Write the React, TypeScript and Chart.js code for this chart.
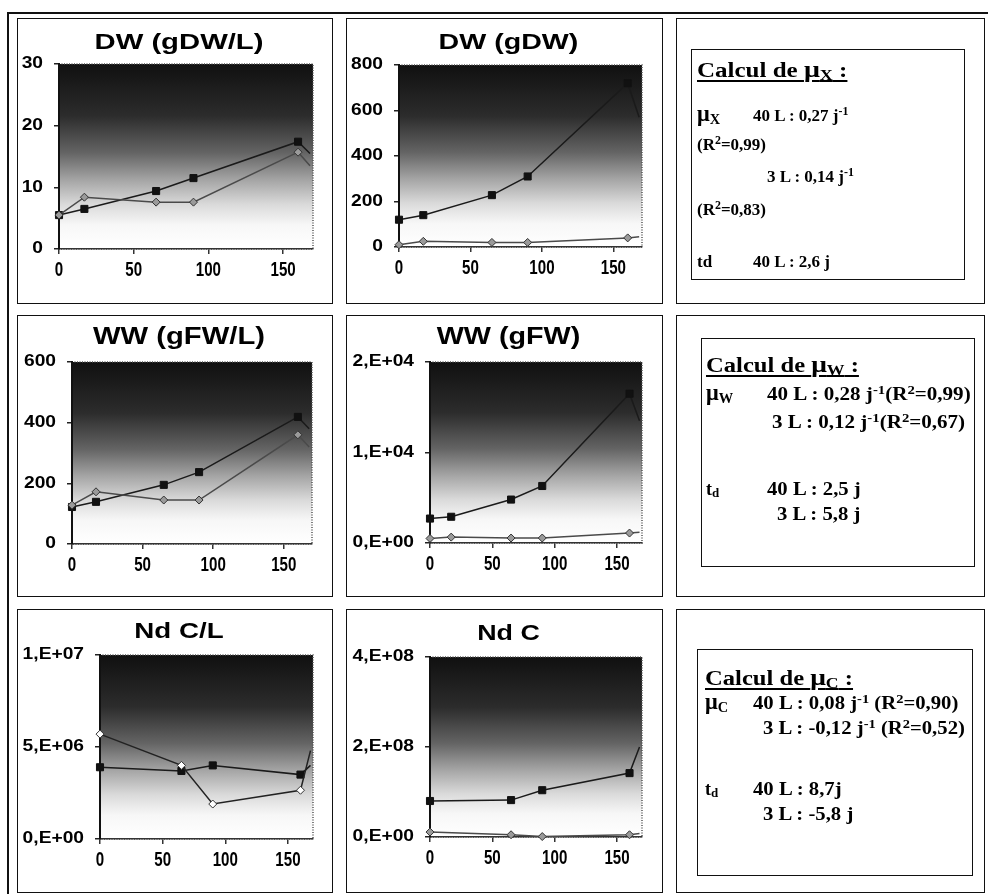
import React, { useEffect, useRef } from "react";
import { Chart, registerables } from "chart.js";

Chart.register(...registerables);

// ---------- data ----------
const xTickValues = [0, 50, 100, 150];
const xTickLabels = ["0", "50", "100", "150"];

const daysBiomass = [0, 17, 65, 90, 160, 168];
const daysCells = [0, 65, 90, 160, 168];

const dwPerL40 = [5.5, 6.5, 9.4, 11.5, 17.4, 15.5];
const dwPerL3 = [5.5, 8.4, 7.6, 7.6, 15.7, 13.5];
const dwPerLTicks = ["0", "10", "20", "30"];

const dwTotal40 = [120, 140, 228, 310, 720, 570];
const dwTotal3 = [10, 25, 20, 20, 40, 45];
const dwTotalTicks = ["0", "200", "400", "600", "800"];

const wwPerL40 = [122, 139, 195, 237, 419, 380];
const wwPerL3 = [128, 172, 145, 145, 360, 320];
const wwPerLTicks = ["0", "200", "400", "600"];

const wwTotal40 = [2700, 2900, 4800, 6300, 16500, 13500];
const wwTotal3 = [500, 650, 550, 550, 1100, 1200];
const wwTotalTicks = ["0,E+00", "1,E+04", "2,E+04"];

const cellsPerL40 = [3.9e6, 3.7e6, 4.0e6, 3.5e6, 4.0e6];
const cellsPerL3 = [5.7e6, 4.0e6, 1.9e6, 2.65e6, 4.8e6];
const cellsPerLTicks = ["0,E+00", "5,E+06", "1,E+07"];

const cellsTotal40 = [8.0e7, 8.2e7, 1.04e8, 1.42e8, 2.0e8];
const cellsTotal3 = [1.1e7, 5e6, 1e6, 5e6, 8e6];
const cellsTotalTicks = ["0,E+00", "2,E+08", "4,E+08"];

// ---------- helpers ----------
type Box = { x: number; y: number; w: number; h: number };
type Plot = { l: number; t: number; r: number; b: number };

const bgPlugin = {
  id: "plotBg",
  beforeDraw(chart: any) {
    const { ctx, chartArea: a } = chart;
    const g = ctx.createLinearGradient(0, a.top, 0, a.bottom);
    g.addColorStop(0, "#101010");
    g.addColorStop(0.28, "#2c2c2c");
    g.addColorStop(0.48, "#646464");
    g.addColorStop(0.63, "#a6a6a6");
    g.addColorStop(0.76, "#dadada");
    g.addColorStop(0.87, "#f7f7f7");
    g.addColorStop(1, "#ffffff");
    ctx.save();
    ctx.fillStyle = g;
    ctx.fillRect(a.left, a.top, a.right - a.left, a.bottom - a.top);
    ctx.setLineDash([1, 1.5]);
    ctx.strokeStyle = "#555";
    ctx.lineWidth = 1.5;
    ctx.strokeRect(a.left, a.top, a.right - a.left, a.bottom - a.top);
    ctx.restore();
  },
};

// tick labels drawn at the scale's tick positions (condensed x, widened y as in the scan)
const labelPlugin = {
  id: "axisLabels",
  afterDraw(chart: any, _args: any, opts: any) {
    const { ctx } = chart;
    const xs = chart.scales.x;
    const ys = chart.scales.y;
    ctx.save();
    ctx.fillStyle = "#000";
    ctx.font = 'bold 21px "Liberation Sans", Arial, sans-serif';
    ctx.textAlign = "center";
    ctx.textBaseline = "alphabetic";
    xs.ticks.forEach((t: any, i: number) => {
      const px = xs.getPixelForValue(t.value);
      ctx.save();
      ctx.translate(px, xs.top + 27);
      ctx.scale(0.72, 1);
      ctx.fillText(opts.xLabels[i] ?? "", 0, 0);
      ctx.restore();
    });
    ctx.font = 'bold 16px "Liberation Sans", Arial, sans-serif';
    ctx.textAlign = "right";
    ctx.textBaseline = "middle";
    ys.ticks.forEach((t: any, i: number) => {
      const py = ys.getPixelForValue(t.value);
      ctx.save();
      ctx.translate(ys.right - 16, py);
      ctx.scale(1.2, 1);
      ctx.fillText(opts.yLabels[i] ?? "", 0, 0);
      ctx.restore();
    });
    ctx.restore();
  },
};

type PanelProps = {
  box: Box;
  plot: Plot;
  title: string;
  titleSize: number;
  titleBaseline: number;
  titleScale: number;
  days: number[];
  s40: number[];
  s3: number[];
  yMax: number;
  yStep: number;
  yLabels: string[];
  openDiamonds?: boolean;
};

function ChartPanel(p: PanelProps) {
  const ref = useRef<HTMLCanvasElement | null>(null);
  const cx = p.box.x + 2;
  const cy = p.box.y + 2;
  const cw = p.box.w - 4;
  const ch = p.box.h - 4;
  useEffect(() => {
    if (!ref.current) return;
    const xH = 34;
    const yW = p.plot.l - cx;
    const padTop = p.plot.t - cy;
    const padRight = cx + cw - p.plot.r;
    const padBottom = cy + ch - p.plot.b - xH;
    const last = p.days.length - 1;
    const chart = new Chart(ref.current, {
      type: "scatter",
      data: {
        datasets: [
          {
            data: p.days.map((d, i) => ({ x: d, y: p.s3[i] })),
            showLine: true,
            clip: false,
            borderColor: p.openDiamonds ? "#222" : "#4a4a4a",
            borderWidth: 1.5,
            pointStyle: "rectRot",
            pointRadius: (c: any) => (c.dataIndex === last ? 0 : 4),
            pointBackgroundColor: p.openDiamonds ? "#ffffff" : "#9a9a9a",
            pointBorderColor: "#333",
            pointBorderWidth: 1,
          },
          {
            data: p.days.map((d, i) => ({ x: d, y: p.s40[i] })),
            showLine: true,
            clip: false,
            borderColor: "#1a1a1a",
            borderWidth: 1.5,
            pointStyle: "rect",
            pointRadius: (c: any) => (c.dataIndex === last ? 0 : 5),
            pointBackgroundColor: "#111",
            pointBorderColor: "#111",
            pointBorderWidth: 1,
          },
        ],
      } as any,
      options: {
        animation: false,
        responsive: false,
        maintainAspectRatio: false,
        layout: { padding: { left: 0, top: padTop, right: padRight, bottom: padBottom } },
        plugins: {
          legend: { display: false },
          tooltip: { enabled: false },
          title: { display: false },
          axisLabels: { xLabels: xTickLabels, yLabels: p.yLabels },
        },
        scales: {
          x: {
            type: "linear",
            min: 0,
            max: 170,
            afterBuildTicks: (axis: any) => {
              axis.ticks = xTickValues.map((v) => ({ value: v }));
            },
            afterFit: (s: any) => {
              s.height = xH;
            },
            ticks: { display: false, stepSize: 50, autoSkip: false, maxRotation: 0 },
            grid: { drawOnChartArea: false, drawTicks: true, tickLength: 5, color: "#333", lineWidth: 1.5 },
            border: { color: "#333", width: 1.5 },
          },
          y: {
            type: "linear",
            min: 0,
            max: p.yMax,
            afterFit: (s: any) => {
              s.width = yW;
            },
            ticks: { display: false, stepSize: p.yStep, autoSkip: false },
            grid: { drawOnChartArea: false, drawTicks: true, tickLength: 5, color: "#222", lineWidth: 1.5 },
            border: { color: "#111", width: 2 },
          },
        },
      } as any,
      plugins: [bgPlugin, labelPlugin],
    });
    return () => chart.destroy();
  }, []);
  return (
    <>
      <div
        style={{
          position: "absolute",
          left: p.box.x,
          top: p.box.y,
          width: p.box.w,
          height: p.box.h,
          border: "1.5px solid #111",
          boxSizing: "border-box",
        }}
      />
      <canvas
        ref={ref}
        width={cw}
        height={ch}
        style={{ position: "absolute", left: cx, top: cy, width: cw, height: ch }}
      />
      <div
        style={{
          position: "absolute",
          left: p.box.x + 4,
          width: p.box.w,
          top: p.titleBaseline - 0.85 * p.titleSize,
          fontSize: p.titleSize,
          lineHeight: `${p.titleSize}px`,
          fontFamily: '"Liberation Sans", Arial, sans-serif',
          fontWeight: "bold",
          textAlign: "center",
          whiteSpace: "nowrap",
          transform: `scaleX(${p.titleScale})`,
          color: "#000",
        }}
      >
        {p.title}
      </div>
    </>
  );
}

const serif = '"Liberation Serif", "Times New Roman", serif';

function Line(props: { x: number; base: number; size: number; scale?: number; children: any; underline?: boolean }) {
  return (
    <div
      style={{
        position: "absolute",
        left: props.x,
        top: props.base - 0.84 * props.size,
        fontSize: props.size,
        lineHeight: `${props.size}px`,
        fontFamily: serif,
        fontWeight: "bold",
        whiteSpace: "nowrap",
        color: "#000",
        textDecoration: props.underline ? "underline" : "none",
        textDecorationThickness: props.underline ? "1.5px" : undefined,
        textUnderlineOffset: "3px",
        transform: `scaleX(${props.scale ?? 1})`,
        transformOrigin: "left center",
      }}
    >
      {props.children}
    </div>
  );
}

const Sup = ({ children }: { children: any }) => (
  <span style={{ fontSize: "0.7em", position: "relative", top: "-0.5em" }}>{children}</span>
);
const Sub = ({ children }: { children: any }) => (
  <span style={{ fontSize: "0.72em", position: "relative", top: "0.2em" }}>{children}</span>
);
const Mu = () => <span style={{ fontSize: "1.12em" }}>μ</span>;

function Frame({ b }: { b: Box }) {
  return (
    <div
      style={{
        position: "absolute",
        left: b.x,
        top: b.y,
        width: b.w,
        height: b.h,
        border: "1.5px solid #111",
        boxSizing: "border-box",
      }}
    />
  );
}

export default function App() {
  const col1 = { x: 17, w: 316 };
  const col2 = { x: 346, w: 317 };
  const col3 = { x: 676, w: 309 };
  const row1 = { y: 18, h: 286 };
  const row2 = { y: 315, h: 282 };
  const row3 = { y: 609, h: 284 };
  return (
    <div style={{ position: "absolute", left: 0, top: 0, width: 988, height: 894, background: "#fff", overflow: "hidden" }}>
      {/* outer frame lines */}
      <div style={{ position: "absolute", left: 8, top: 12, width: 980, height: 1.5, background: "#111" }} />
      <div style={{ position: "absolute", left: 7, top: 12, width: 1.5, height: 882, background: "#111" }} />

      <ChartPanel
        box={{ x: col1.x, y: row1.y, w: col1.w, h: row1.h }}
        plot={{ l: 59, t: 64, r: 313, b: 249 }}
        title="DW (gDW/L)"
        titleSize={22}
        titleBaseline={50}
        titleScale={1.33}
        days={daysBiomass}
        s40={dwPerL40}
        s3={dwPerL3}
        yMax={30}
        yStep={10}
        yLabels={dwPerLTicks}
      />
      <ChartPanel
        box={{ x: col2.x, y: row1.y, w: col2.w, h: row1.h }}
        plot={{ l: 399, t: 65, r: 642, b: 247 }}
        title="DW (gDW)"
        titleSize={22}
        titleBaseline={50}
        titleScale={1.3}
        days={daysBiomass}
        s40={dwTotal40}
        s3={dwTotal3}
        yMax={800}
        yStep={200}
        yLabels={dwTotalTicks}
      />
      <ChartPanel
        box={{ x: col1.x, y: row2.y, w: col1.w, h: row2.h }}
        plot={{ l: 72, t: 362, r: 312, b: 544 }}
        title="WW (gFW/L)"
        titleSize={23}
        titleBaseline={345}
        titleScale={1.27}
        days={daysBiomass}
        s40={wwPerL40}
        s3={wwPerL3}
        yMax={600}
        yStep={200}
        yLabels={wwPerLTicks}
      />
      <ChartPanel
        box={{ x: col2.x, y: row2.y, w: col2.w, h: row2.h }}
        plot={{ l: 430, t: 362, r: 642, b: 543 }}
        title="WW (gFW)"
        titleSize={23}
        titleBaseline={345}
        titleScale={1.25}
        days={daysBiomass}
        s40={wwTotal40}
        s3={wwTotal3}
        yMax={20000}
        yStep={10000}
        yLabels={wwTotalTicks}
      />
      <ChartPanel
        box={{ x: col1.x, y: row3.y, w: col1.w, h: row3.h }}
        plot={{ l: 100, t: 655, r: 313, b: 839 }}
        title="Nd C/L"
        titleSize={22}
        titleBaseline={639}
        titleScale={1.26}
        days={daysCells}
        s40={cellsPerL40}
        s3={cellsPerL3}
        yMax={1e7}
        yStep={5e6}
        yLabels={cellsPerLTicks}
        openDiamonds
      />
      <ChartPanel
        box={{ x: col2.x, y: row3.y, w: col2.w, h: row3.h }}
        plot={{ l: 430, t: 657, r: 642, b: 837 }}
        title="Nd C"
        titleSize={22}
        titleBaseline={641}
        titleScale={1.22}
        days={daysCells}
        s40={cellsTotal40}
        s3={cellsTotal3}
        yMax={4e8}
        yStep={2e8}
        yLabels={cellsTotalTicks}
      />

      {/* right column frames */}
      <Frame b={{ x: col3.x, y: row1.y, w: col3.w, h: row1.h }} />
      <Frame b={{ x: col3.x, y: row2.y, w: col3.w, h: row2.h }} />
      <Frame b={{ x: col3.x, y: row3.y, w: col3.w, h: row3.h }} />

      {/* box 1 */}
      <Frame b={{ x: 691, y: 49, w: 274, h: 231 }} />
      <Line x={697} base={77} size={20} scale={1.25} underline>
        Calcul de <Mu /><Sub>X</Sub> :
      </Line>
      <Line x={697} base={121} size={20}>
        <Mu /><Sub>X</Sub>
      </Line>
      <Line x={753} base={121} size={17}>
        40 L : 0,27 j<Sup>-1</Sup>
      </Line>
      <Line x={697} base={150} size={17}>
        (R<Sup>2</Sup>=0,99)
      </Line>
      <Line x={767} base={182} size={17}>
        3 L : 0,14 j<Sup>-1</Sup>
      </Line>
      <Line x={697} base={215} size={17}>
        (R<Sup>2</Sup>=0,83)
      </Line>
      <Line x={697} base={267} size={17}>
        td
      </Line>
      <Line x={753} base={267} size={17}>
        40 L : 2,6 j
      </Line>

      {/* box 2 */}
      <Frame b={{ x: 701, y: 338, w: 274, h: 229 }} />
      <Line x={706} base={372} size={20} scale={1.23} underline>
        Calcul de <Mu /><Sub>W</Sub> :
      </Line>
      <Line x={706} base={400} size={20}>
        <Mu /><Sub>W</Sub>
      </Line>
      <Line x={767} base={400} size={18} scale={1.17}>
        40 L : 0,28 j<Sup>-1</Sup>(R<Sup>2</Sup>=0,99)
      </Line>
      <Line x={772} base={428} size={18} scale={1.17}>
        3 L : 0,12 j<Sup>-1</Sup>(R<Sup>2</Sup>=0,67)
      </Line>
      <Line x={706} base={495} size={18}>
        t<Sub>d</Sub>
      </Line>
      <Line x={767} base={495} size={18} scale={1.15}>
        40 L : 2,5 j
      </Line>
      <Line x={777} base={520} size={18} scale={1.15}>
        3 L : 5,8 j
      </Line>

      {/* box 3 */}
      <Frame b={{ x: 697, y: 649, w: 276, h: 227 }} />
      <Line x={705} base={685} size={20} scale={1.23} underline>
        Calcul de <Mu /><Sub>C</Sub> :
      </Line>
      <Line x={705} base={709} size={20}>
        <Mu /><Sub>C</Sub>
      </Line>
      <Line x={753} base={709} size={18} scale={1.15}>
        40 L : 0,08 j<Sup>-1</Sup> (R<Sup>2</Sup>=0,90)
      </Line>
      <Line x={763} base={734} size={18} scale={1.15}>
        3 L : -0,12 j<Sup>-1</Sup> (R<Sup>2</Sup>=0,52)
      </Line>
      <Line x={705} base={795} size={18}>
        t<Sub>d</Sub>
      </Line>
      <Line x={753} base={795} size={18} scale={1.15}>
        40 L : 8,7j
      </Line>
      <Line x={763} base={820} size={18} scale={1.15}>
        3 L : -5,8 j
      </Line>
    </div>
  );
}
